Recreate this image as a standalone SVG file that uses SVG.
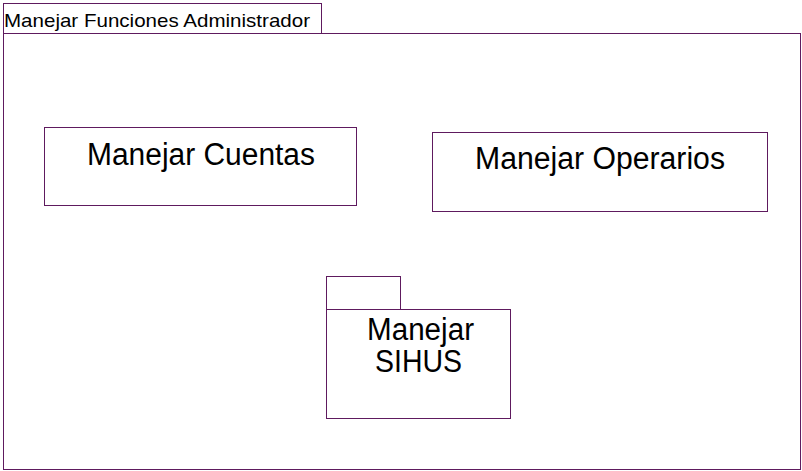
<svg xmlns="http://www.w3.org/2000/svg" width="802" height="471" viewBox="0 0 802 471">
<style>
.b{fill:#ffffff;stroke:#5e1a5e;stroke-width:1}
.t{font-family:"Liberation Sans",Arial,sans-serif;fill:#000000}
.big{font-size:31px;text-anchor:middle}
.hdr{font-size:19px}
</style>
<rect x="0" y="0" width="802" height="471" fill="#ffffff"/>
<g id="frame">
<rect class="b" x="3.5" y="3.5" width="318" height="30"/>
<rect class="b" x="3.5" y="33.5" width="797" height="436"/>
<text class="t hdr" x="4" y="27" textLength="306" lengthAdjust="spacingAndGlyphs">Manejar Funciones Administrador</text>
</g>
<g id="manejar-cuentas">
<rect class="b" x="44.5" y="127.5" width="312" height="78"/>
<text class="t big" x="201" y="165" textLength="228" lengthAdjust="spacingAndGlyphs">Manejar Cuentas</text>
</g>
<g id="manejar-operarios">
<rect class="b" x="432.5" y="132.5" width="335" height="79"/>
<text class="t big" x="600" y="169" textLength="250" lengthAdjust="spacingAndGlyphs">Manejar Operarios</text>
</g>
<g id="manejar-sihus">
<rect class="b" x="326.5" y="276.5" width="74" height="33"/>
<rect class="b" x="326.5" y="309.5" width="184" height="109"/>
<text class="t big" x="420.5" y="340" textLength="107" lengthAdjust="spacingAndGlyphs">Manejar</text>
<text class="t big" x="418.5" y="372" textLength="87" lengthAdjust="spacingAndGlyphs">SIHUS</text>
</g>
<g id="connectors"></g>
</svg>
